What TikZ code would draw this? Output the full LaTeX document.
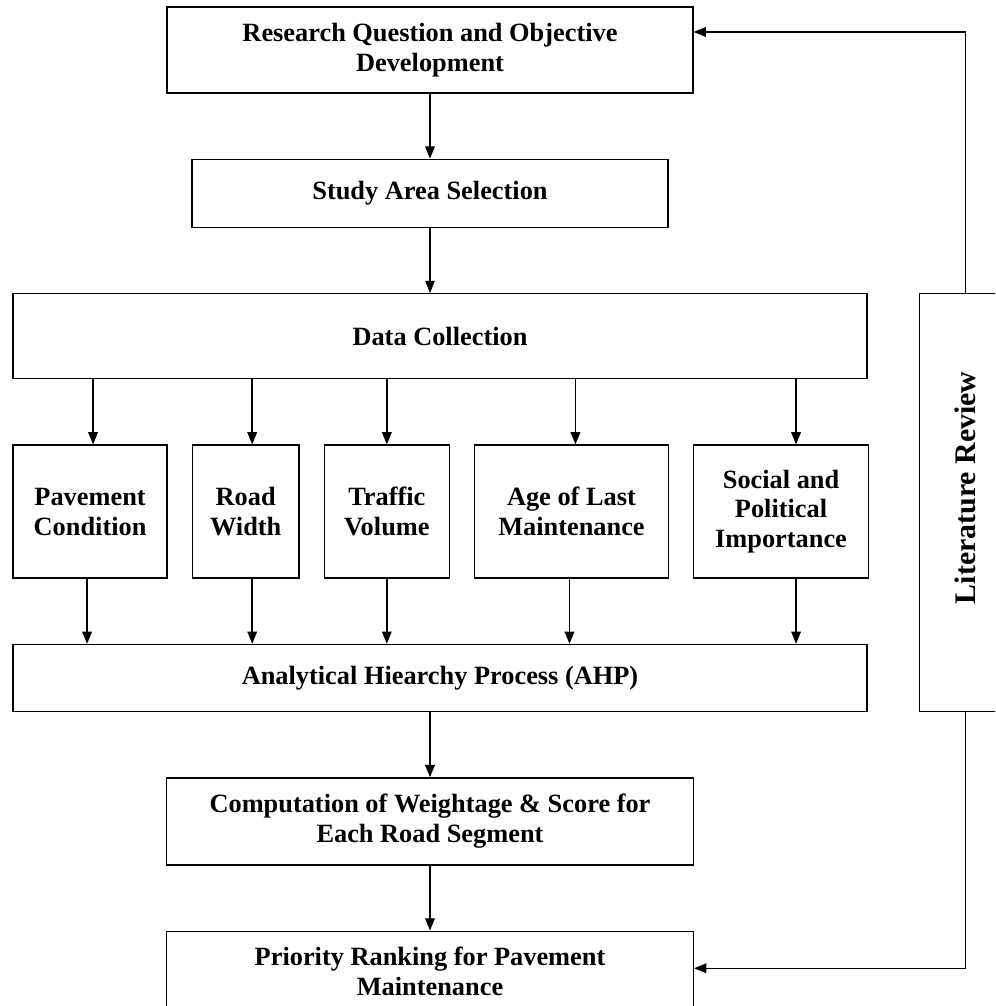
\documentclass[tikz,border=0pt]{standalone}
\usepackage{graphicx}
\usepackage{fontspec}
\setmainfont{Liberation Serif}
\usetikzlibrary{
  positioning,
  arrows.meta
}

\begin{document}
\begin{tikzpicture}[x = 0.02cm, y = -0.02cm, node distance = 1.3cm and 0.475cm,
    box/.style = {draw, line width = 0.8pt, align = center, inner sep = 2pt,
      font = \bfseries\fontsize{15}{17}\selectfont},
    factor/.style = {box, minimum height = 2.66cm},
    flow/.style = {-{Triangle[length = 7pt, width = 5.5pt]}, line width = 0.8pt}]
    \useasboundingbox (0,0) rectangle (995,1006);
    \clip (0,0) rectangle (995,1006);

    \node[box, minimum width = 10.52cm, minimum height = 1.72cm] (rq) at (430,50) {Research Question and Objective\\ Development};
    \node[box, below = of rq, minimum width = 9.52cm, minimum height = 1.36cm] (study) {Study Area Selection};
    \node[box, below = of study, xshift = 0.2cm, minimum width = 17.08cm, minimum height = 1.7cm] (data) {Data Collection};

    \node[factor, below = of data.south west, anchor = north west, minimum width = 3.08cm] (pave) {Pavement\\ Condition};
    \node[factor, right = of pave, minimum width = 2.14cm] (road) {Road\\ Width};
    \node[factor, right = of road, minimum width = 2.5cm] (traffic) {Traffic\\ Volume};
    \node[factor, right = of traffic, minimum width = 3.88cm] (age) {Age of Last\\ Maintenance};
    \node[factor, right = of age, minimum width = 3.5cm] (social) {Social and\\ Political\\ Importance};

    \node[box, below = of pave.south west, anchor = north west, minimum width = 17.08cm, minimum height = 1.34cm] (ahp) {Analytical Hiearchy Process (AHP)};
    \node[box, below = of ahp, xshift = -0.2cm, minimum width = 10.54cm, minimum height = 1.74cm] (comp) {Computation of Weightage \& Score for\\ Each Road Segment};
    \node[box, below = of comp, minimum width = 10.54cm, minimum height = 1.74cm, text depth = 4pt] (rank) {Priority Ranking for Pavement\\ Maintenance};

    \node[box, right = 1.02cm of data.north east, anchor = north west, minimum width = 1.84cm, minimum height = 8.36cm,
      font = \bfseries\fontsize{17}{20}\selectfont] (lit) {\rotatebox{90}{\kern17pt Literature Review}};

    \draw[flow] (rq) -- (study);
    \draw[flow] (study) -- (study |- data.north);
    \foreach \n/\a/\b in {pave/0.06/-0.06, road/0.13/0.13, traffic/0/0, age/0.08/-0.04, social/0.3/0.3} {
      \draw[flow] ([xshift = \a cm]\n.north |- data.south) -- ([xshift = \a cm]\n.north);
      \draw[flow] ([xshift = \b cm]\n.south) -- ([xshift = \b cm]\n.south |- ahp.north);
    }
    \draw[flow] (comp |- ahp.south) -- (comp);
    \draw[flow] (comp) -- (rank);
    \draw[flow] (lit) |- ([yshift = 0.13cm]rank.east);
    \draw[flow] (lit) |- ([yshift = 0.36cm]rq.east);
  \end{tikzpicture}
\end{document}
